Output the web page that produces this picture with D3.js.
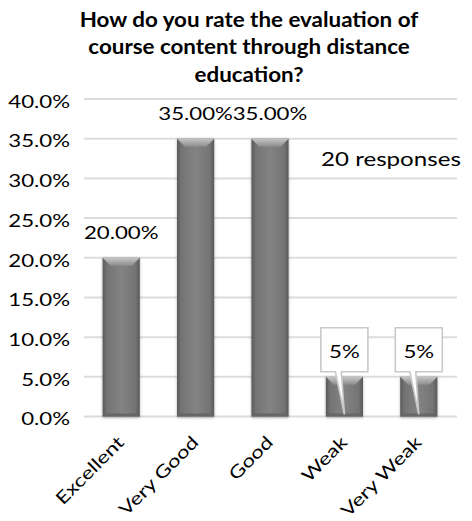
<!DOCTYPE html>
<html>
<head>
<meta charset="utf-8">
<script src="https://cdn.jsdelivr.net/npm/d3@7"></script>
<style>
  html, body { margin: 0; padding: 0; background: #fff; }
  svg { display: block; }
  text { font-family: Lato, "Open Sans", sans-serif; fill: #000; }
</style>
</head>
<body>
<svg id="chart" width="472" height="521"></svg>
<script>
const titleLines = ["How do you rate the evaluation of", "course content through distance", "education?"];
const categories = ["Excellent", "Very Good", "Good", "Weak", "Very Weak"];
const values = [20, 35, 35, 5, 5];
const valueLabels = ["20.00%", "35.00%", "35.00%", "5%", "5%"];
const calloutFlags = [false, false, false, true, true];
const yTicks = [0, 5, 10, 15, 20, 25, 30, 35, 40];
const note = "20 responses";

const svg = d3.select("#chart");
const W = 472, H = 521;
const margin = { left: 84, right: 16, top: 99, bottom: 104.5 };
const FONT = "Lato, 'Open Sans', sans-serif";
const WIDE = 1.27;   // horizontal glyph stretch for the regular labels

const x = d3.scaleBand().domain(categories)
  .range([margin.left, W - margin.right]).paddingInner(0.5).paddingOuter(0.25);
const y = d3.scaleLinear().domain([0, 40]).range([H - margin.bottom, margin.top]);

// Places a text whose glyphs are widened by sx around its anchor point.
function label(parent, px, py, str, opts = {}) {
  const t = parent.append("text")
    .attr("transform", `translate(${px},${py}) scale(${opts.sx || WIDE},1)`)
    .attr("text-anchor", opts.anchor || "start")
    .style("font-size", (opts.size || 17.2) + "px")
    .style("font-weight", opts.weight || "normal")
    .style("font-family", FONT)
    .text(str);
  return t;
}

// Title
const tg0 = svg.append("g");
titleLines.forEach((line, i) =>
  label(tg0, 249, 26.5 + i * 27.5, line, { anchor: "middle", size: 20, weight: "bold", sx: 1.12 }));

// Gridlines
svg.append("g").selectAll("line").data(yTicks).join("line")
  .attr("x1", margin.left).attr("x2", W - margin.right + 1)
  .attr("y1", d => y(d)).attr("y2", d => y(d))
  .attr("stroke", "#dcdcdc").attr("stroke-width", 2);

// Y axis labels
const yAxis = d3.axisLeft(y).tickValues(yTicks).tickSize(0).tickFormat(d => d.toFixed(1) + "%");
const yg = svg.append("g").attr("transform", `translate(${margin.left},0)`).call(yAxis);
yg.select(".domain").remove();
yg.selectAll("text")
  .attr("x", null).attr("dy", null)
  .attr("transform", `translate(-14,8.3) scale(${WIDE},1)`)
  .attr("text-anchor", "end")
  .style("font-size", "17.5px").style("font-family", FONT).attr("fill", "#000");

// X axis labels
const xAxis = d3.axisBottom(x).tickSize(0).tickPadding(0);
const xg = svg.append("g").attr("transform", `translate(0,${y(0)})`).call(xAxis);
xg.select(".domain").remove();
xg.selectAll("text")
  .style("font-size", "17.5px").style("font-family", FONT).attr("fill", "#000")
  .attr("text-anchor", "end")
  .attr("dy", null).attr("y", 0)
  .attr("transform", `translate(4,27) rotate(-45) scale(${WIDE},1)`);

// Bar gradients
const defs = svg.append("defs");
const hg = defs.append("linearGradient").attr("id", "barH").attr("x1", 0).attr("x2", 1).attr("y1", 0).attr("y2", 0);
[[0, "#5a5a5a"], [0.12, "#747474"], [0.5, "#838383"], [0.88, "#747474"], [1, "#5a5a5a"]]
  .forEach(([o, c]) => hg.append("stop").attr("offset", o).attr("stop-color", c));
const tg = defs.append("linearGradient").attr("id", "barTop").attr("x1", 0).attr("x2", 0).attr("y1", 0).attr("y2", 1);
[[0, "#c6c6c6"], [1, "#8c8c8c"]].forEach(([o, c]) => tg.append("stop").attr("offset", o).attr("stop-color", c));
const filt = defs.append("filter").attr("id", "shadow").attr("x", "-20%").attr("y", "-10%").attr("width", "140%").attr("height", "120%");
filt.append("feGaussianBlur").attr("in", "SourceAlpha").attr("stdDeviation", 1.5).attr("result", "b");
filt.append("feOffset").attr("in", "b").attr("dx", 0).attr("dy", 1).attr("result", "o");
filt.append("feComponentTransfer").attr("in", "o").attr("result", "s")
  .append("feFuncA").attr("type", "linear").attr("slope", 0.3);
const fm = filt.append("feMerge");
fm.append("feMergeNode").attr("in", "s");
fm.append("feMergeNode").attr("in", "SourceGraphic");

const data = categories.map((c, i) => ({ c, v: values[i], label: valueLabels[i], callout: calloutFlags[i] }));

const bars = svg.append("g").selectAll("g").data(data).join("g").attr("filter", "url(#shadow)");
bars.append("rect")
  .attr("x", d => x(d.c)).attr("width", x.bandwidth())
  .attr("y", d => y(d.v)).attr("height", d => y(0) - y(d.v))
  .attr("fill", "url(#barH)");
bars.append("path")
  .attr("d", d => {
    const x0 = x(d.c), x1 = x0 + x.bandwidth(), t = y(d.v), b = 8;
    return `M${x0},${t}L${x1},${t}L${x1 - b},${t + b}L${x0 + b},${t + b}Z`;
  })
  .attr("fill", "url(#barTop)");
bars.append("path")
  .attr("d", d => {
    const x0 = x(d.c), x1 = x0 + x.bandwidth(), bt = y(0), b = 3;
    return `M${x0},${bt}L${x1},${bt}L${x1 - b},${bt - b}L${x0 + b},${bt - b}Z`;
  })
  .attr("fill", "#666");

// Plain value labels
const vl = svg.append("g");
data.filter(d => !d.callout).forEach(d =>
  label(vl, x(d.c) + x.bandwidth() / 2, y(d.v) - 18.5, d.label, { anchor: "middle", size: 17.5 }));

// Callout value labels
const call = svg.append("g");
data.filter(d => d.callout).forEach(d => {
  const cx = x(d.c) + x.bandwidth() / 2;
  const bw = 47;
  const bx0 = cx - bw / 2, bx1 = cx + bw / 2;
  const by1 = y(d.v) - 5, by0 = y(d.v) - 49;
  const tipY = y(0) - 2;
  call.append("path")
    .attr("d", `M${bx0},${by0}L${bx1},${by0}L${bx1},${by1}L${cx - 3},${by1}L${cx},${tipY}L${cx - 9},${by1}L${bx0},${by1}Z`)
    .attr("fill", "#fff").attr("stroke", "#c9c9c9").attr("stroke-width", 1.6);
  label(call, cx, y(d.v) - 19, d.label, { anchor: "middle", size: 17.5 });
});

// Response count note
label(svg, 321, 166, note, { size: 19 });
</script>
</body>
</html>
